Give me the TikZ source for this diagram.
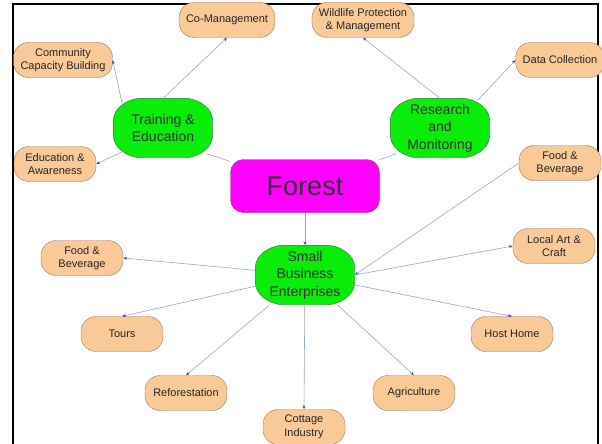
\documentclass[tikz,border=0pt]{standalone}
\usepackage{fontspec}
\setmainfont{Liberation Sans}
\usetikzlibrary{arrows.meta,backgrounds,positioning}
\definecolor{peach}{RGB}{250,201,152}
\definecolor{peachline}{RGB}{150,125,95}
\definecolor{leaf}{RGB}{10,236,10}
\definecolor{leafline}{RGB}{40,120,40}
\definecolor{rootfill}{RGB}{255,0,255}
\definecolor{rootline}{RGB}{150,40,150}
\definecolor{linkcol}{RGB}{150,170,200}
\definecolor{tipcol}{RGB}{60,80,160}
\tikzset{
  >={Stealth[length=4pt,width=3pt,color=tipcol]},
  every node/.style={align=center},
  leafbox/.style={draw=peachline, fill=peach, rounded corners=15pt,
    minimum width=82pt, minimum height=35pt, inner xsep=7pt, inner ysep=3pt,
    font=\fontsize{11}{13.5}\selectfont, text=black!85},
  hub/.style={minimum width=99pt, minimum height=59pt, inner sep=2pt,
    font=\fontsize{14}{17.5}\selectfont, text=black!80},
  hubline/.style={draw=leafline, fill=leaf, rounded corners=9pt},
  root/.style={draw=rootline, fill=rootfill, rounded corners=13pt,
    minimum width=149pt, minimum height=53pt,
    font=\fontsize{27}{30}\selectfont, text=black!80},
  link/.style={draw=linkcol, line width=0.6pt},
}

\begin{document}
\begin{tikzpicture}[x=1pt,y=-1pt]
  \useasboundingbox (0,0) rectangle (602,444);
  \draw[line width=2pt] (13,444) -- (13,4) -- (598,4) -- (598,444);

  % centre and the three branches
  \node[root] (forest) at (305,186) {Forest};
  \node[hub] (train) at (163,128) {Training \&\\Education};
  \node[hub] (research) at (440,128) {Research\\and\\Monitoring};
  \node[hub] (sbe) at (305,275) {Small\\Business\\Enterprises};

  % green octagons behind the branch texts
  \begin{scope}[on background layer]
    \foreach \n in {train,research,sbe}
      \draw[hubline] ([xshift=18pt]\n.north west) -- ([xshift=-18pt]\n.north east)
        -- ([yshift=-13pt]\n.north east) -- ([yshift=13pt]\n.south east)
        -- ([xshift=-18pt]\n.south east) -- ([xshift=18pt]\n.south west)
        -- ([yshift=13pt]\n.south west) -- ([yshift=-13pt]\n.north west) -- cycle;
  \end{scope}

  % training leaves
  \node[leafbox] (comgmt) at (227,20) {Co-Management};
  \node[leafbox] (capacity) at (63,60) {Community\\Capacity Building};
  \node[leafbox] (awareness) at (55,164) {Education \&\\Awareness};

  % research leaves
  \node[leafbox] (wildlife) at (363,20) {Wildlife Protection\\\& Management};
  \node[leafbox] (datacoll) at (560,60) {Data Collection};

  % business leaves
  \node[leafbox] (foodr) at (560,163) {Food \&\\Beverage};
  \node[leafbox] (artcraft) at (554,246) {Local Art \&\\Craft};
  \node[leafbox] (hosthome) at (512,334) {Host Home};
  \node[leafbox] (agri) at (414,393) {Agriculture};
  \node[leafbox] (cottage) at (304,427) {Cottage\\Industry};
  \node[leafbox] (refor) at (186,393) {Reforestation};
  \node[leafbox] (tours) at (122,334) {Tours};
  \node[leafbox] (foodl) at (82,258) {Food \&\\Beverage};

  \draw[link] (forest) -- ([xshift=-6pt,yshift=4pt]train.south east);
  \draw[link] (forest) -- ([xshift=6pt,yshift=4pt]research.south west);
  \draw[link,->] (forest) -- (sbe.north);

  \draw[link,->] (train.north) -- (comgmt.south);
  \draw[link,->] ([xshift=9pt,yshift=-6pt]train.north west) -- (capacity.east);
  \draw[link,->] ([xshift=9pt,yshift=6pt]train.south west) -- (awareness.east);

  \draw[link,->] (research.north) -- (wildlife.south);
  \draw[link,->] ([xshift=-12pt,yshift=-2pt]research.north east) -- (datacoll.west);

  \draw[link,->] (foodr.west) -- (sbe.east);
  \draw[link,->] (sbe.east) -- (artcraft.west);
  \draw[link,->] (sbe) -- (hosthome.north);
  \draw[link,->] (sbe) -- (agri.north);
  \draw[link,->] (sbe) -- (cottage.north);
  \draw[link,->] (sbe) -- (refor.north);
  \draw[link,->] (sbe) -- (tours.north);
  \draw[link,->] (sbe) -- (foodl.east);
\end{tikzpicture}
\end{document}
